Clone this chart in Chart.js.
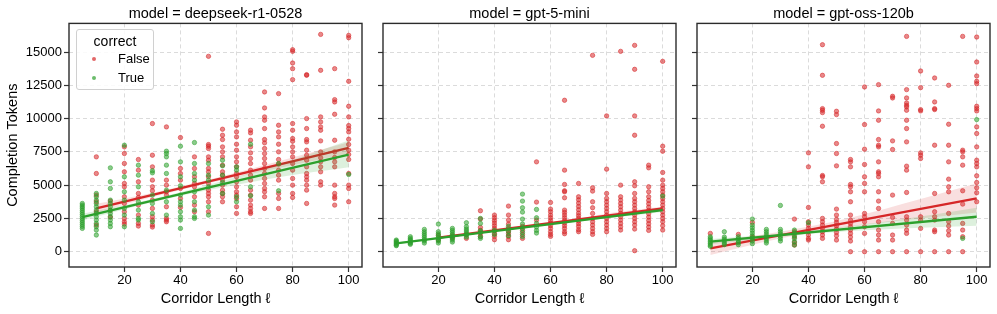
<!DOCTYPE html>
<html>
<head>
<meta charset="utf-8">
<script src="https://cdn.jsdelivr.net/npm/chart.js@4.4.1/dist/chart.umd.min.js"></script>
<style>
    body { margin: 0; background: #fff; overflow: hidden; }
    #wrap { position: relative; width: 997px; height: 314px; }
    canvas { position: absolute; left: 0; top: 0; }
    #legend {
        position: absolute; left: 76px; top: 29px; width: 76px; height: 59px;
        border: 1px solid #d0d0d0; border-radius: 3px; background: rgba(255,255,255,0.85);
        font-family: 'Liberation Sans', Arial, sans-serif; color: #000; z-index: 5;
    }
    #legend .ttl { position: absolute; left: 0; width: 100%; top: 3px; text-align: center; font-size: 14px; }
    #legend .row { position: absolute; left: 41px; font-size: 13px; }
    #legend .dot { position: absolute; left: 15px; width: 4px; height: 4px; border-radius: 50%; }
</style>
</head>
<body>
<div id="wrap">
    <canvas id="c0" width="997" height="314"></canvas>
    <canvas id="c1" width="997" height="314"></canvas>
    <canvas id="c2" width="997" height="314"></canvas>
    <div id="legend">
        <div class="ttl">correct</div>
        <div class="dot" style="top:27px;background:rgba(214,39,40,0.7)"></div>
        <div class="row" style="top:21px">False</div>
        <div class="dot" style="top:46px;background:rgba(44,160,44,0.7)"></div>
        <div class="row" style="top:40px">True</div>
    </div>
</div>
<script>
const FONT = "'Liberation Sans', Arial, sans-serif";

const models = ['deepseek-r1-0528', 'gpt-5-mini', 'gpt-oss-120b'];
const lengths = [5, 10, 15, 20, 25, 30, 35, 40, 45, 50, 55, 60, 65, 70, 75, 80, 85, 90, 95, 100];
const xTicks = [20, 40, 60, 80, 100];
const yTicks = [0, 2500, 5000, 7500, 10000, 12500, 15000];

// completion tokens per corridor length (same order as lengths)
const deepseekFalse = [
    [], [7125, 5875, 4250, 3750, 3000, 2000], [3800, 3100, 2600],
    [7875, 7375, 6625, 6000, 5125, 4875, 4125, 3625, 3000, 2500, 2250, 2075],
    [6925, 6125, 5250, 4375, 4075, 3500, 2750, 2125, 1925],
    [9625, 7250, 6375, 5375, 4875, 4575, 3875, 3250, 2625, 2375, 2000, 1850],
    [9375, 5375, 5000, 4500, 4250, 3375, 2500, 2375, 2250],
    [8575, 6250, 5875, 5375, 4750, 4000, 3325],
    [7125, 6250, 5625, 5125, 4875, 4125, 3500, 3000],
    [14675, 8050, 7925, 7750, 7125, 6875, 6250, 6000, 5625, 5125, 4625, 4375, 4125, 3750, 3000, 1375],
    [9200, 8750, 8425, 7875, 7500, 7125, 6500, 6000, 5750, 5375, 5000, 4625, 4375, 4125, 3750],
    [9750, 9500, 9000, 8625, 8075, 7625, 7125, 6750, 6375, 5875, 5625, 5250, 4875, 4500, 4250, 4000, 3375, 2875],
    [9125, 8925, 8375, 7875, 7425, 7000, 6625, 6125, 5750, 5375, 4625, 4250, 3875, 3500, 3250, 3000, 2875],
    [12000, 10800, 10125, 9875, 9250, 8425, 8175, 7750, 7375, 7000, 6625, 6250, 5875, 5500, 5125, 4750, 4500, 4125, 3250],
    [11875, 9500, 9000, 8625, 8075, 7500, 6925, 6575, 6125, 5750, 5375, 4375, 4000, 3250],
    [15175, 15050, 14175, 13750, 12925, 9625, 9125, 8500, 8300, 7875, 7500, 7125, 6625, 6125, 5500, 5000, 4375, 4075],
    [13300, 13250, 10000, 9250, 8425, 8250, 7625, 7250, 6875, 6375, 5875, 5625, 5375, 5000, 4625, 3625],
    [16325, 13625, 10125, 9750, 9375, 9125, 8325, 7500, 7050, 6750, 6375, 6000, 5250, 5000],
    [13750, 11425, 11250, 10325, 8375, 7500, 7075, 6750, 6375, 5000, 4375, 4125, 4000, 3500],
    [16250, 16075, 12800, 10925, 10125, 9475, 9250, 9000, 8450, 8050, 7625, 7300, 6925, 5875, 5000, 4750, 3750]
];
const deepseekTrue = [
    [3625, 3500, 3375, 3250, 3100, 2950, 2800, 2650, 2500, 2350, 2200, 2050, 1900, 1750],
    [4375, 4125, 3875, 3625, 3375, 3125, 2875, 2625, 2375, 2125, 1875, 1625, 1250],
    [6300, 5250, 4750, 3875, 3625, 3375, 3125, 2875, 2625, 2375, 2125, 1875],
    [8000, 5625, 4500, 3875, 3250, 2750, 1875],
    [6500, 5750, 4875, 3750, 3125, 2500, 2375],
    [6075, 5925, 4250, 3625, 2875, 2250],
    [7550, 7375, 7125, 6500, 5875, 4625, 3750, 2750],
    [7925, 6750, 5625, 4950, 4250, 3750, 3500, 3000, 2625, 2375, 1750],
    [8200, 6625, 5875, 5375, 4500, 3750, 3125, 2625, 2500],
    [6625, 5750, 5375, 4875, 3375, 2750],
    [6875, 6450, 5750, 5200, 4375],
    [6375, 6125, 4125, 3750],
    [8075, 4875, 4200],
    [], [6625, 4575], [], [], [], [], [5800]
];
const gpt5False = [
    [], [], [], [1250, 875], [1200, 1050], [1300, 1000],
    [3075, 2450, 1825, 1600, 1375, 1150],
    [2750, 2550, 2350, 2150, 1950, 1750, 1550, 1350, 1150, 900],
    [3425, 2750, 2375, 2075, 1750, 1550, 1350, 1150, 900],
    [1900, 1600, 1300, 1000],
    [6750, 3725, 2375],
    [3700, 3200, 3000, 2750, 2550, 2350, 2150, 1950, 1750, 1500, 1300, 1150],
    [11375, 6125, 5050, 4575, 4500, 4050, 3125, 2950, 2750, 2550, 2350, 2150, 1950, 1750, 1500, 1350],
    [5125, 4125, 3900, 3650, 3400, 3150, 2900, 2700, 2500, 2300, 2100, 1900, 1650, 1500],
    [14750, 4800, 4550, 3750, 3300, 2875, 2500, 2250, 2000, 1750, 1500, 1300],
    [10200, 6200, 4375, 4000, 3750, 3500, 3250, 3000, 2750, 2500, 2250, 2000, 1750, 1500],
    [15050, 5000, 4125, 3875, 3625, 3375, 3125, 2875, 2625, 2375, 2125, 1875, 1625],
    [15500, 13700, 10200, 8750, 5250, 4950, 4375, 4000, 3750, 3500, 3250, 3000, 2750, 2500, 2250, 2000, 1700, 75],
    [6500, 6300, 4875, 4500, 4125, 3850, 3600, 3350, 3100, 2850, 2600, 2350, 2100, 1850, 1600],
    [14300, 7925, 7550, 5950, 5375, 5000, 4750, 4500, 4250, 4000, 3750, 3500, 3250, 3000, 2750, 2500, 2250, 1950, 1625]
];
const gpt5True = [
    [875, 800, 725, 650, 575, 500, 450],
    [1125, 1000, 900, 800, 700, 625, 550],
    [1675, 1500, 1350, 1200, 1050, 900, 800, 650],
    [2075, 1500, 1350, 1200, 1050, 900, 800, 650],
    [1750, 1600, 1450, 1300, 1150, 1000, 875, 725],
    [2175, 1875, 1700, 1550, 1400, 1250, 1100],
    [2500, 2125, 1575, 1450, 1125, 1000],
    [1600, 1300],
    [1900, 1500, 1200],
    [4325, 3800, 3300, 2975, 2450, 2075, 1750, 1450, 1150],
    [3175, 2550, 2125, 1850, 1600, 1400],
    [], [], [], [], [], [], [], [], [4175]
];
const ossFalse = [
    [1375], [], [1300], [2200, 1100], [], [],
    [2450, 1500, 1100, 700, 500],
    [7425, 6375, 3325, 2250, 2000, 1750, 1500, 1250, 1000, 875],
    [15550, 13250, 10750, 10625, 10450, 9425, 5725, 5625, 5250, 2500, 2250, 2000, 1750, 1500, 1250, 1000],
    [10550, 10300, 8125, 7375, 6450, 3200, 2750, 2425, 2200, 1950, 1700, 1450, 1200, 875],
    [6925, 6750, 6375, 5050, 4875, 4500, 3750, 2750, 2375, 2125, 1875, 1625, 1375, 1100, 800, 0],
    [12375, 9550, 7700, 6550, 5625, 5125, 4500, 2875, 2625, 2250, 1875, 1375, 0],
    [12550, 10575, 9875, 8425, 8000, 7875, 6750, 6000, 5875, 5625, 4500, 3800, 3250, 2250, 1625, 1250, 875, 0],
    [11675, 11550, 8325, 7675, 4250, 2575, 2125, 1250, 875, 0],
    [16175, 12175, 11550, 11175, 11000, 10875, 10625, 9875, 9250, 8250, 6425, 6125, 4450, 2625, 2375, 2000, 1625, 1375, 0],
    [13575, 12325, 10675, 10575, 7425, 7250, 7000, 2625, 2375, 1750, 0],
    [13050, 11250, 10750, 10675, 8000, 4375, 3000, 2625, 2375, 1625, 1500, 0],
    [12500, 9575, 8000, 6750, 5450, 4875, 4500, 2875, 2250, 1925, 1575, 1250, 0],
    [16175, 7625, 7500, 7125, 6500, 4575, 3575, 2125, 1625, 1125, 0],
    [16125, 14250, 13200, 12800, 12625, 10925, 10750, 10575, 9375, 8875, 7875, 6875, 6625, 6375, 5700, 5200, 4800, 4425, 3750]
];
const ossTrue = [
    [1125, 1000, 875, 750, 625, 500, 400],
    [1500, 1100, 950, 800, 650, 525],
    [1125, 975, 825, 675, 525],
    [2450, 2000, 1800, 1600, 1400, 1200, 1000, 800, 600],
    [1675, 1500, 1325, 1150, 975, 800, 650],
    [3475, 1675, 1500, 1325, 1150, 975, 800],
    [1625, 1400, 1200, 1000, 750, 500],
    [2175], [], [], [], [], [], [], [], [], [], [], [1000], [9925]
];

// regression fits and confidence bands
const fitX = [
    { red: [10, 100], green: [5, 100] },
    { red: [20, 100], green: [5, 100] },
    { red: [5, 100], green: [5, 100] }
];
const redFitY = [[3250, 7800], [1050, 3250], [250, 4000]];
const greenFitY = [[2600, 7300], [625, 3125], [750, 2625]];
const bandX = [[10, 30, 50, 75, 100], [20, 40, 60, 80, 100], [5, 30, 55, 80, 100]];
const greenBandX = [[5, 30, 50, 75, 100], [5, 30, 50, 75, 100], [5, 30, 55, 80, 100]];
const redLow = [[2950, 4110, 5140, 6290, 7380], [950, 1520, 1980, 2720, 3130], [-250, 1000, 1900, 2500, 2950]];
const redHigh = [[3600, 4410, 5400, 6790, 8220], [1140, 1600, 2080, 2860, 3370], [750, 1500, 2550, 3950, 5150]];
const greenLow = [[2350, 3720, 4630, 5600, 6350], [560, 1230, 1800, 2400, 2990], [550, 1130, 1550, 1800, 1950]];
const greenHigh = [[2850, 3960, 5030, 6550, 8350], [690, 1340, 1900, 2560, 3260], [950, 1350, 1930, 2650, 3300]];

const panels = [
    { left: 69, right: 362, yWidth: 69 },
    { left: 383, right: 676, yWidth: 5 },
    { left: 697, right: 990, yWidth: 5 }
];

const RED = '#d62728', GREEN = '#2ca02c';

function toPoints(groups) {
    const out = [];
    groups.forEach((vals, i) => vals.forEach(v => out.push({ x: lengths[i], y: v })));
    return out;
}
function pairs(xs, ys) {
    return xs.map((x, i) => ({ x: x, y: ys[i] }));
}

const framePlugin = {
    id: 'frame',
    afterDatasetsDraw(chart) {
        const a = chart.chartArea, ctx = chart.ctx;
        ctx.save();
        ctx.strokeStyle = '#2b2b2b';
        ctx.lineWidth = 1.4;
        ctx.strokeRect(a.left, a.top, a.right - a.left, a.bottom - a.top);
        ctx.restore();
    }
};

const scatterSets = [[deepseekFalse, deepseekTrue], [gpt5False, gpt5True], [ossFalse, ossTrue]];

models.forEach((model, i) => {
    const p = panels[i];
    const [falseVals, trueVals] = scatterSets[i];
    const lineDs = (data, color, order) => ({
        data, order, showLine: true, borderColor: color, borderWidth: 2.3,
        pointRadius: 0, fill: false
    });
    const bandDs = (data, color, order, fillTo) => ({
        data, order, showLine: true, borderWidth: 0, borderColor: 'rgba(0,0,0,0)',
        pointRadius: 0, cubicInterpolationMode: 'monotone',
        fill: fillTo === null ? false : { target: fillTo }, backgroundColor: color
    });
    const pointDs = (data, fillC, edgeC, order) => ({
        data, order, showLine: false, pointRadius: 2.2, pointBorderWidth: 0.7,
        pointBackgroundColor: fillC, pointBorderColor: edgeC
    });

    const datasets = [
        lineDs(pairs(fitX[i].green, greenFitY[i]), GREEN, 0),
        bandDs(pairs(greenBandX[i], greenHigh[i]), 'rgba(44,160,44,0.16)', 1, 2),
        bandDs(pairs(greenBandX[i], greenLow[i]), 'rgba(44,160,44,0.16)', 1, null),
        pointDs(toPoints(trueVals), 'rgba(44,160,44,0.55)', 'rgba(44,160,44,0.75)', 2),
        lineDs(pairs(fitX[i].red, redFitY[i]), RED, 3),
        bandDs(pairs(bandX[i], redHigh[i]), 'rgba(214,39,40,0.15)', 4, 6),
        bandDs(pairs(bandX[i], redLow[i]), 'rgba(214,39,40,0.15)', 4, null),
        pointDs(toPoints(falseVals), 'rgba(214,39,40,0.55)', 'rgba(214,39,40,0.75)', 5)
    ];

    new Chart(document.getElementById('c' + i), {
        type: 'line',
        data: { datasets },
        options: {
            responsive: false,
            animation: false,
            events: [],
            layout: { padding: { left: p.left - p.yWidth, right: 997 - p.right, top: 0, bottom: 0 } },
            plugins: {
                legend: { display: false },
                tooltip: { enabled: false },
                title: {
                    display: true, text: 'model = ' + model, fullSize: false,
                    color: '#000', font: { family: FONT, size: 14.5, weight: 'normal' },
                    padding: { top: 5, bottom: 1 }
                }
            },
            scales: {
                x: {
                    type: 'linear', min: 0.25, max: 104.75,
                    afterBuildTicks: s => { s.ticks = xTicks.map(v => ({ value: v })); },
                    afterFit: s => { s.height = 47; },
                    grid: { color: '#d2d2d2', lineWidth: 0.8, tickColor: '#333', tickLength: 5, tickWidth: 1.2, tickBorderDash: [] },
                    border: { display: false, dash: [4, 3] },
                    ticks: { color: '#000', font: { family: FONT, size: 13 }, padding: 1, maxRotation: 0, autoSkip: false },
                    title: { display: true, text: 'Corridor Length ℓ', color: '#000', font: { family: FONT, size: 14.5 }, padding: { top: 0, bottom: 6 } }
                },
                y: {
                    type: 'linear', min: -1150, max: 17150,
                    afterBuildTicks: s => { s.ticks = yTicks.map(v => ({ value: v })); },
                    afterFit: s => { s.width = p.yWidth; },
                    grid: { color: '#d2d2d2', lineWidth: 0.8, tickColor: '#333', tickLength: 5, tickWidth: 1.2, tickBorderDash: [] },
                    border: { display: false, dash: [4, 3] },
                    ticks: { display: i === 0, color: '#000', font: { family: FONT, size: 13 }, padding: 2, callback: v => String(v) },
                    title: { display: i === 0, text: 'Completion Tokens', color: '#000', font: { family: FONT, size: 14.5 }, padding: { top: 4, bottom: 0 } }
                }
            }
        },
        plugins: [framePlugin]
    });
});
</script>
</body>
</html>
